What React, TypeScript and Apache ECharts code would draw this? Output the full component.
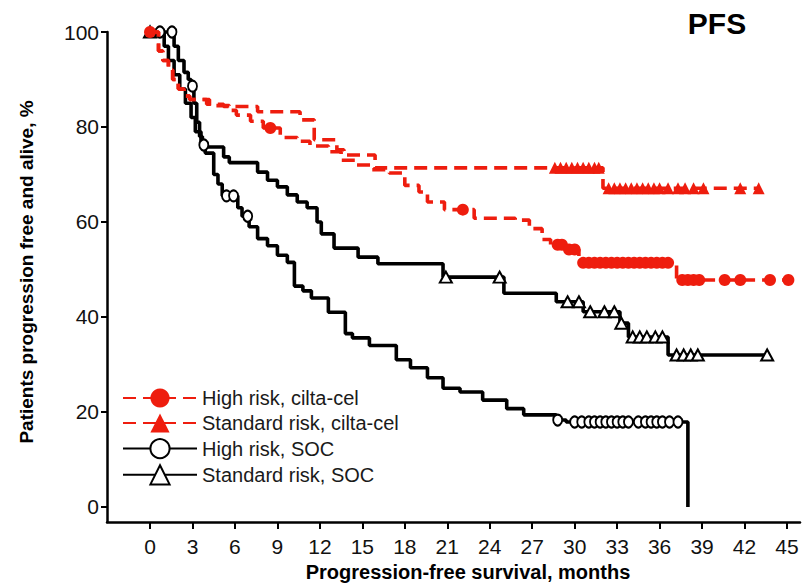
import React, { useEffect, useRef } from "react";
import * as echarts from "echarts";

// ---- Data ----
const xTicks = [0, 3, 6, 9, 12, 15, 18, 21, 24, 27, 30, 33, 36, 39, 42, 45];
const yTicks = [0, 20, 40, 60, 80, 100];

const seriesNames = [
  "High risk, cilta-cel",
  "Standard risk, cilta-cel",
  "High risk, SOC",
  "Standard risk, SOC",
];

// Kaplan-Meier event steps: [month, % after event]
const highCiltaSteps = [
  [0, 100], [0.6, 96], [0.9, 94], [1.3, 92], [1.6, 90], [2.0, 88], [2.4, 86.5], [2.8, 85.8],
  [4.2, 84.5], [5.6, 83.5], [6.1, 82.5], [7.1, 81.2], [8.0, 79.8], [9.2, 77.8], [10.4, 77],
  [11.3, 76], [12.6, 74.8], [13.5, 73], [14.5, 72], [15.7, 71], [16.9, 70.3], [18.0, 67.7],
  [19.0, 66.3], [19.6, 64.2], [20.8, 62.6], [22.9, 60.8], [25.8, 60.4], [26.8, 58.6],
  [27.7, 56.3], [28.3, 55.2], [29.4, 54.2], [30.3, 51.4], [37.2, 47.8],
];
const highCiltaCensor = [
  0, 8.5, 22.1, 28.8, 29.1, 29.6, 30.0, 30.6, 31.0, 31.4, 31.8, 32.2, 32.6, 33.0, 33.4, 33.8,
  34.2, 34.6, 35.0, 35.4, 35.8, 36.2, 36.6, 37.6, 38.0, 38.4, 38.8, 40.6, 41.7, 43.8, 45.1,
];

const stdCiltaSteps = [
  [0, 100], [0.6, 96], [0.9, 94], [1.3, 92], [1.6, 90], [2.0, 88], [2.4, 86.5], [2.8, 85.8],
  [4.0, 84.8], [5.2, 84.3], [7.6, 83.2], [10.6, 81.5], [11.6, 77.3], [13.2, 75.2], [13.7, 74.1],
  [15.9, 71.4], [32.0, 67.1],
];
const stdCiltaCensor = [
  28.6, 29.0, 29.4, 29.8, 30.2, 30.6, 31.0, 31.4, 31.7, 32.4, 32.8, 33.2, 33.6, 34.0, 34.4,
  34.8, 35.2, 35.6, 36.0, 36.6, 37.3, 37.8, 38.4, 39.1, 41.7, 43.0,
];

const highSocSteps = [
  [0, 100], [1.7, 97], [2.0, 94], [2.4, 91.5], [2.7, 90], [2.9, 88.6], [3.1, 85], [3.3, 81],
  [3.5, 78], [3.7, 76.2], [3.9, 74.5], [4.5, 70], [4.8, 68], [5.1, 65.5], [6.2, 63], [6.5, 61.2],
  [7.0, 59], [7.6, 56.5], [8.3, 55], [9.0, 53], [9.7, 51.5], [10.2, 46.5], [10.8, 45.5],
  [11.4, 44], [12.6, 41], [13.8, 36.5], [14.3, 35.6], [15.5, 34], [17.4, 31], [18.4, 29.3],
  [19.6, 27.2], [20.7, 25], [21.9, 24.2], [23.5, 22.5], [25.2, 20.7], [26.4, 19.4],
  [28.7, 18.3], [29.4, 17.9], [38.0, 0],
];
const highSocCensor = [
  0.7, 1.55, 3.0, 3.8, 5.4, 5.9, 6.9, 28.8, 30.0, 30.5, 31.0, 31.4, 31.8, 32.2, 32.6, 33.0,
  33.4, 33.8, 34.5, 35.0, 35.4, 35.8, 36.2, 36.7, 37.3,
];

const stdSocSteps = [
  [0, 100], [1.0, 97], [1.3, 94], [1.7, 91], [2.1, 88], [2.5, 85], [2.9, 82], [3.2, 79],
  [3.6, 75.8], [5.2, 73.7], [5.6, 72.5], [7.6, 70.5], [8.3, 68.8], [9.0, 67.4], [9.7, 65.7],
  [10.4, 64.2], [11.1, 63], [11.8, 60], [12.1, 57.5], [13.0, 54.5], [14.7, 52.6], [16.1, 51.2],
  [20.7, 48.4], [25.0, 45], [28.7, 43.2], [30.6, 41.1], [33.2, 38.7], [33.8, 35.8], [36.6, 32],
];
const stdSocCensor = [
  0, 20.9, 24.7, 29.5, 30.3, 31.1, 32.1, 32.8, 33.3, 34.1, 34.6, 35.1, 35.7, 36.2, 37.2, 37.7,
  38.2, 38.7, 43.6,
];

const RED = "#ee1d0e";
const BLACK = "#000000";
const FONT = "'Liberation Sans', Arial, Helvetica, sans-serif";

function buildKM(steps: number[][], censor: number[]) {
  const pts: { t: number; s: number; c: boolean }[] = steps.map((p) => ({ t: p[0], s: p[1], c: false }));
  censor.forEach((t) => {
    let s = steps[0][1];
    for (const p of steps) if (p[0] <= t) s = p[1];
    pts.push({ t, s, c: true });
  });
  pts.sort((a, b) => (a.t - b.t) || (a.c === b.c ? 0 : a.c ? 1 : -1));
  return pts.map((p) => (p.c ? { value: [p.t, p.s] } : { value: [p.t, p.s], symbol: "none" }));
}

export default function App() {
  const ref = useRef<HTMLDivElement>(null);
  useEffect(() => {
    if (!ref.current) return;
    const chart = echarts.init(ref.current, null, { renderer: "svg" });
    const mk = (
      name: string,
      steps: number[][],
      censor: number[],
      color: string,
      dashed: boolean,
      symbol: string,
      size: number | number[],
      z: number
    ) => ({
      name,
      type: "line",
      step: "end",
      clip: false,
      z,
      data: buildKM(steps, censor),
      symbol,
      symbolSize: size,
      showSymbol: true,
      showAllSymbol: true,
      lineStyle: { color, width: 3.6, type: dashed ? [13, 7] : "solid" },
      itemStyle: { color, borderColor: color, borderWidth: dashed ? 0 : 2.2 },
      emphasis: { disabled: true },
    });
    chart.setOption({
      animation: false,
      grid: { left: 107, right: 8, top: 32, bottom: 65 },
      legend: {
        orient: "vertical",
        left: 122,
        top: 388,
        itemWidth: 74,
        itemHeight: 24,
        itemGap: 5,
        padding: 0,
        data: seriesNames,
        textStyle: { fontSize: 20, color: "#1a1a1a", fontFamily: FONT },
      },
      xAxis: {
        type: "value",
        min: -3.04,
        max: 45.92,
        axisLine: { show: true, onZero: false, lineStyle: { color: BLACK, width: 2.5 } },
        axisTick: { show: true, length: 7, customValues: xTicks, lineStyle: { color: BLACK, width: 2 } },
        axisLabel: { customValues: xTicks, fontSize: 21, color: "#111", margin: 14, fontFamily: FONT },
        splitLine: { show: false },
      },
      yAxis: {
        type: "value",
        min: -3.16,
        max: 100,
        axisLine: { show: true, onZero: false, lineStyle: { color: BLACK, width: 2.5 } },
        axisTick: { show: true, length: 6, customValues: yTicks, lineStyle: { color: BLACK, width: 2 } },
        axisLabel: { customValues: yTicks, fontSize: 21, color: "#111", margin: 8, fontFamily: FONT },
        splitLine: { show: false },
      },
      graphic: [
        {
          type: "text",
          x: 717,
          y: 23,
          style: { text: "PFS", fontSize: 30, fontWeight: "bold", fontFamily: FONT, fill: "#000", align: "center", verticalAlign: "middle" },
        },
        {
          type: "text",
          x: 468,
          y: 572,
          style: { text: "Progression-free survival, months", fontSize: 20, fontWeight: "bold", fontFamily: FONT, fill: "#000", align: "center", verticalAlign: "middle" },
        },
        {
          type: "text",
          x: 26,
          y: 272,
          rotation: Math.PI / 2,
          style: { text: "Patients progression free and alive, %", fontSize: 19, fontWeight: "bold", fontFamily: FONT, fill: "#000", align: "center", verticalAlign: "middle" },
        },
      ],
      series: [
        mk(seriesNames[0], highCiltaSteps, highCiltaCensor, RED, true, "circle", 12, 4),
        mk(seriesNames[1], stdCiltaSteps, stdCiltaCensor, RED, true, "triangle", 12, 4),
        mk(seriesNames[2], highSocSteps, highSocCensor, BLACK, false, "emptyCircle", [9, 11], 3),
        mk(seriesNames[3], stdSocSteps, stdSocCensor, BLACK, false, "emptyTriangle", [12, 11], 3),
      ],
    });
    return () => chart.dispose();
  }, []);
  return <div ref={ref} style={{ position: "absolute", left: 0, top: 0, width: 808, height: 587 }} />;
}
